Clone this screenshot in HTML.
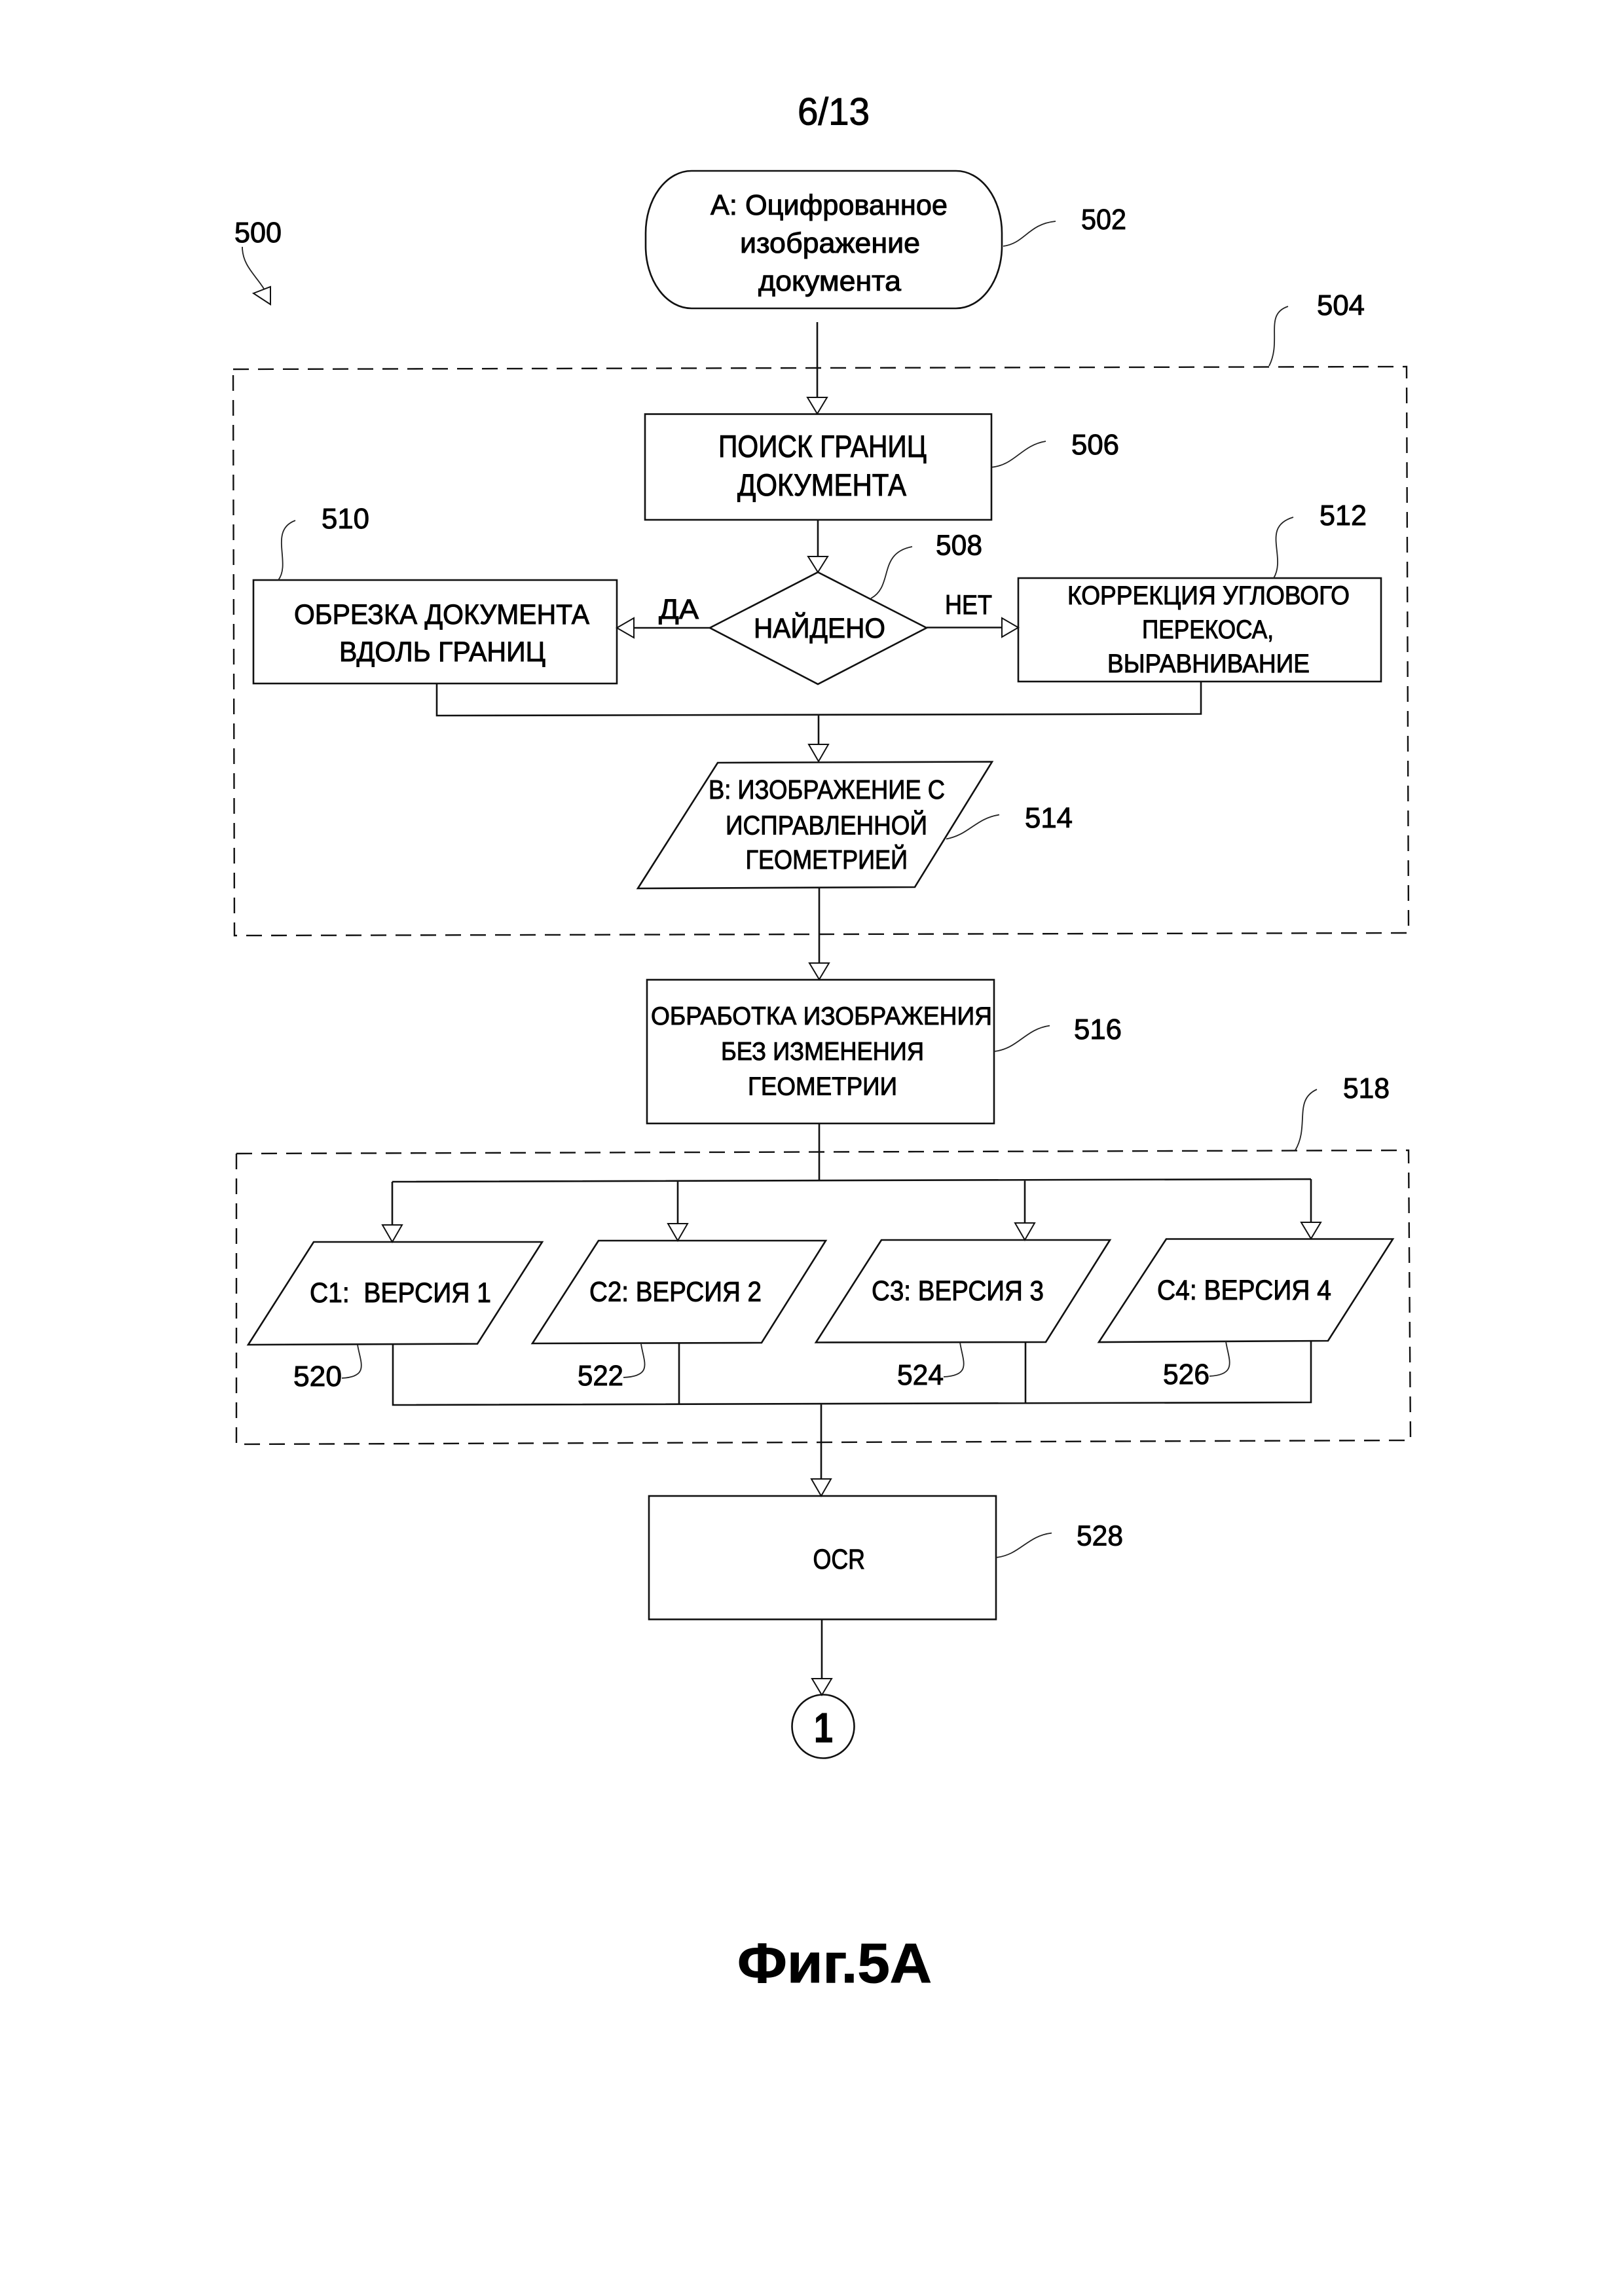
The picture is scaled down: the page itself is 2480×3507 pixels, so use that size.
<!DOCTYPE html>
<html lang="ru"><head><meta charset="utf-8"><title>Фиг.5А</title>
<style>html,body{margin:0;padding:0;background:#fff}svg{display:block}
text{font-family:"Liberation Sans",sans-serif;fill:#000;stroke:#000;stroke-width:1}
.s{fill:none;stroke:#111;stroke-width:2.6}.t{fill:none;stroke:#222;stroke-width:1.8}.h{fill:#fff;stroke:#111;stroke-width:2}.d{fill:none;stroke:#111;stroke-width:2.4;stroke-dasharray:24 14}</style></head>
<body><svg xmlns="http://www.w3.org/2000/svg" width="2480" height="3507" viewBox="0 0 2480 3507">
<rect width="2480" height="3507" fill="#fff"/>
<!-- dashed containers -->
<path class="d" d="M356 564L2148 560L2151 1425L358 1429Z"/>
<path class="d" d="M361 1762L2151 1757L2154 2200L361 2206Z"/>
<!-- connectors -->
<path class="s" d="M1248 492V610M1249 794V850M1084 959H968M1415 958.5H1530M667 1044V1093L1834 1090.5V1041M1250 1092V1140M1251 1356V1473M1251 1716V1803M599 1805L2002 1801M599 1805V1872M1035 1804V1870M1565 1803V1869M2002 1801V1868M600 2054V2146L2002 2142V2048M1037 2051V2145M1566 2050V2143M1254 2144V2262M1255 2473V2566"/>
<!-- arrowheads -->
<path class="h" d="M1233 607H1263L1248 632ZM1234 850H1264L1249 874ZM968 944V974L942 959ZM1530 944V973L1555 958.5ZM1235 1137H1265L1250 1163ZM1236 1471H1266L1251 1496ZM584 1871H614L599 1897ZM1020 1869H1050L1035 1895ZM1550 1868H1580L1565 1894ZM1987 1867H2017L2002 1892ZM1239 2259H1269L1254 2285ZM1240 2564H1270L1255 2589Z"/>
<!-- shapes -->
<rect class="s" x="986" y="261" width="544" height="210" rx="70" ry="95"/>
<rect class="s" x="985" y="632.5" width="529" height="161.5"/>
<path class="s" d="M1249 874L1415 959L1249 1045L1084 959Z"/>
<rect class="s" x="387" y="886" width="555" height="158"/>
<rect class="s" x="1555" y="883" width="554" height="158"/>
<path class="s" d="M1096 1165L1515 1163.5L1397 1355L974 1357Z"/>
<rect class="s" x="988" y="1496.5" width="530" height="219.5"/>
<path class="s" d="M479 1897H828L729 2052.6L379 2054Z"/>
<path class="s" d="M914 1895H1261L1163 2051L813 2052Z"/>
<path class="s" d="M1346 1894H1695L1597 2050L1246 2050.5Z"/>
<path class="s" d="M1781 1892.5H2127L2028 2048L1678 2050Z"/>
<rect class="s" x="991" y="2285" width="530" height="188.5"/>
<ellipse class="s" cx="1257" cy="2637" rx="47.5" ry="48.5"/>
<!-- leaders -->
<path class="t" d="M370 377C370 405 390 420 403 441"/>
<path class="h" d="M387 448L413 438V465Z"/>
<path class="t" d="M1532 376C1565 372 1570 342 1612 338"/>
<path class="t" d="M1938 559C1958 520 1930 480 1967 468"/>
<path class="t" d="M1515 713.6C1550 710 1560 680 1597 674"/>
<path class="t" d="M425 886C445 860 410 810 451 795"/>
<path class="t" d="M1945 883C1965 850 1925 805 1975 790"/>
<path class="t" d="M1330 914C1365 895 1340 845 1393 835"/>
<path class="t" d="M1445 1281.5C1480 1275 1490 1250 1526 1244.5"/>
<path class="t" d="M1518 1606C1555 1602 1565 1572 1603 1566.6"/>
<path class="t" d="M1978 1757C2000 1720 1975 1680 2011 1664"/>
<path class="t" d="M546 2054C550 2080 565 2103 522 2105"/>
<path class="t" d="M979 2053C983 2080 998 2102 952 2104"/>
<path class="t" d="M1466 2050.5C1470 2078 1485 2101 1441 2103"/>
<path class="t" d="M1872 2049C1876 2076 1891 2100 1847 2102"/>
<path class="t" d="M1521 2379C1558 2375 1568 2346 1606 2341.6"/>
<!-- labels -->
<text x="1218" y="190.5" font-size="58" textLength="110" lengthAdjust="spacingAndGlyphs">6/13</text>
<text x="1085" y="328" font-size="44" textLength="362" lengthAdjust="spacingAndGlyphs">A: Оцифрованное</text>
<text x="1130" y="386" font-size="44" textLength="275" lengthAdjust="spacingAndGlyphs">изображение</text>
<text x="1158" y="444" font-size="44" textLength="218" lengthAdjust="spacingAndGlyphs">документа</text>
<text x="1097" y="698" font-size="47" textLength="318" lengthAdjust="spacingAndGlyphs">ПОИСК ГРАНИЦ</text>
<text x="1126" y="757" font-size="47" textLength="258" lengthAdjust="spacingAndGlyphs">ДОКУМЕНТА</text>
<text x="449" y="953" font-size="43" textLength="451" lengthAdjust="spacingAndGlyphs">ОБРЕЗКА ДОКУМЕНТА</text>
<text x="518" y="1010" font-size="43" textLength="315" lengthAdjust="spacingAndGlyphs">ВДОЛЬ ГРАНИЦ</text>
<text x="1006" y="945" font-size="43" textLength="61" lengthAdjust="spacingAndGlyphs">ДА</text>
<text x="1443" y="938" font-size="42" textLength="72" lengthAdjust="spacingAndGlyphs">НЕТ</text>
<text x="1151" y="974" font-size="43" textLength="201" lengthAdjust="spacingAndGlyphs">НАЙДЕНО</text>
<text x="1630" y="923" font-size="40" textLength="431" lengthAdjust="spacingAndGlyphs">КОРРЕКЦИЯ УГЛОВОГО</text>
<text x="1744" y="975" font-size="40" textLength="201" lengthAdjust="spacingAndGlyphs">ПЕРЕКОСА,</text>
<text x="1691" y="1027" font-size="40" textLength="309" lengthAdjust="spacingAndGlyphs">ВЫРАВНИВАНИЕ</text>
<text x="1082" y="1220" font-size="41" textLength="361" lengthAdjust="spacingAndGlyphs">B: ИЗОБРАЖЕНИЕ С</text>
<text x="1108" y="1274.5" font-size="41" textLength="308" lengthAdjust="spacingAndGlyphs">ИСПРАВЛЕННОЙ</text>
<text x="1138.5" y="1327" font-size="41" textLength="247.5" lengthAdjust="spacingAndGlyphs">ГЕОМЕТРИЕЙ</text>
<text x="994" y="1565" font-size="39" textLength="521" lengthAdjust="spacingAndGlyphs">ОБРАБОТКА ИЗОБРАЖЕНИЯ</text>
<text x="1101" y="1619" font-size="39" textLength="310" lengthAdjust="spacingAndGlyphs">БЕЗ ИЗМЕНЕНИЯ</text>
<text x="1142" y="1672.5" font-size="39" textLength="228" lengthAdjust="spacingAndGlyphs">ГЕОМЕТРИИ</text>
<text x="473" y="1989" font-size="43" textLength="277" lengthAdjust="spacingAndGlyphs" xml:space="preserve">C1:  ВЕРСИЯ 1</text>
<text x="900" y="1987.5" font-size="43" textLength="263" lengthAdjust="spacingAndGlyphs">C2: ВЕРСИЯ 2</text>
<text x="1331" y="1986" font-size="43" textLength="263" lengthAdjust="spacingAndGlyphs">C3: ВЕРСИЯ 3</text>
<text x="1767" y="1985" font-size="43" textLength="266" lengthAdjust="spacingAndGlyphs">C4: ВЕРСИЯ 4</text>
<text x="1241.5" y="2396" font-size="43" textLength="79.5" lengthAdjust="spacingAndGlyphs">OCR</text>
<text x="1243" y="2661" font-size="64" font-weight="700" textLength="29" lengthAdjust="spacingAndGlyphs">1</text>
<text x="1126" y="3028" font-size="85" font-weight="700" textLength="297" lengthAdjust="spacingAndGlyphs">Фиг.5А</text>
<!-- reference numbers -->
<g font-size="44">
<text x="358" y="370" textLength="72" lengthAdjust="spacingAndGlyphs">500</text>
<text x="1651" y="350" textLength="69" lengthAdjust="spacingAndGlyphs">502</text>
<text x="2011" y="481" textLength="73" lengthAdjust="spacingAndGlyphs">504</text>
<text x="1636" y="694" textLength="73" lengthAdjust="spacingAndGlyphs">506</text>
<text x="1429" y="847.5" textLength="71" lengthAdjust="spacingAndGlyphs">508</text>
<text x="491" y="807" textLength="73" lengthAdjust="spacingAndGlyphs">510</text>
<text x="2015" y="802" textLength="72" lengthAdjust="spacingAndGlyphs">512</text>
<text x="1565" y="1264" textLength="73" lengthAdjust="spacingAndGlyphs">514</text>
<text x="1640" y="1587" textLength="73" lengthAdjust="spacingAndGlyphs">516</text>
<text x="2051" y="1677" textLength="71" lengthAdjust="spacingAndGlyphs">518</text>
<text x="448" y="2117" textLength="74" lengthAdjust="spacingAndGlyphs">520</text>
<text x="882" y="2116" textLength="70" lengthAdjust="spacingAndGlyphs">522</text>
<text x="1370" y="2115" textLength="71" lengthAdjust="spacingAndGlyphs">524</text>
<text x="1776" y="2114" textLength="71" lengthAdjust="spacingAndGlyphs">526</text>
<text x="1644" y="2360.6" textLength="71" lengthAdjust="spacingAndGlyphs">528</text>
</g>
</svg></body></html>
